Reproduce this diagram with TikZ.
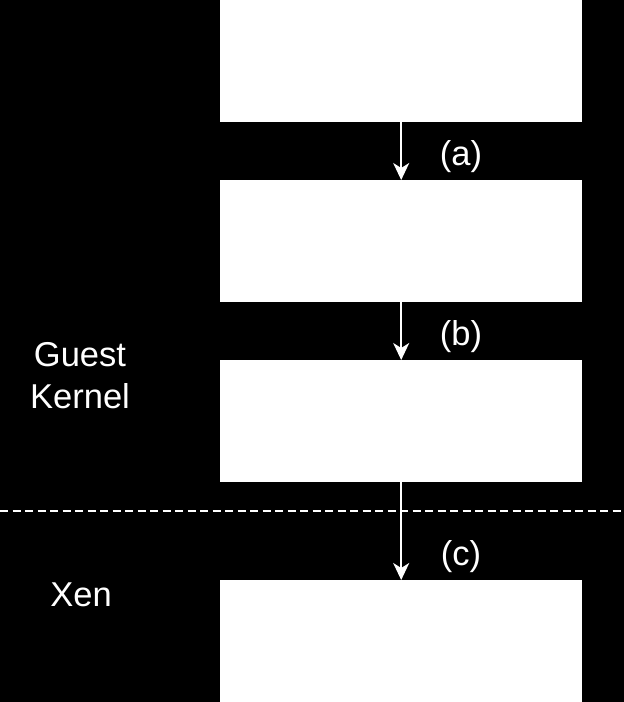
\documentclass[tikz,border=0pt]{standalone}
\usepackage{fontspec}
\setmainfont{Liberation Sans}
\usetikzlibrary{arrows.meta}
\begin{document}
\begin{tikzpicture}[x=1pt,y=-1pt,
  blk/.style={fill=white,draw=none,minimum width=362pt,minimum height=122pt,inner sep=0pt,anchor=north west},
  flow/.style={draw=white,line width=2pt,-{Stealth[length=17pt,width=16pt,inset=5pt]}},
  lbl/.style={text=white,font=\fontsize{34.5}{42}\selectfont,inner sep=0pt,align=center},
  sep/.style={draw=white,line width=1.5pt,dash pattern=on 8pt off 4.5pt}]
\fill[black] (0,0) rectangle (624,702);
\useasboundingbox (0,0) rectangle (624,702);
\node[blk] (b1) at (220,0) {};
\node[blk] (b2) at (220,180) {};
\node[blk] (b3) at (220,360) {};
\node[blk] (b4) at (220,580) {};
\draw[flow] (b1.south) -- (b2.north);
\draw[flow] (b2.south) -- (b3.north);
\draw[flow] (b3.south) -- (b4.north);
\coordinate (dl) at (0,511);
\coordinate (dr) at (624,511);
\draw[sep] (dl) -- (dr);
\node[lbl] (la) at (461,157) {(a)};
\node[lbl] (lb) at (461,337) {(b)};
\node[lbl] (lc) at (461,557) {(c)};
\node[lbl] (gk) at (80,376) {Guest\\Kernel};
\node[lbl] (xen) at (81,595) {Xen};
\end{tikzpicture}
\end{document}
